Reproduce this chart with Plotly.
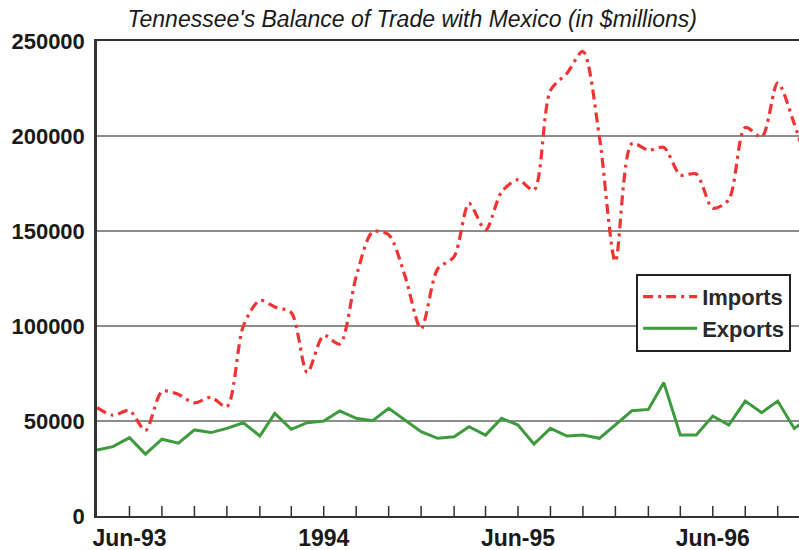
import pandas as pd
import plotly.graph_objects as go

# Monthly trade values, April 1993 onward (in $millions)
months = pd.date_range("1993-04-01", periods=45, freq="MS")

imports = [
    57000, 53000, 55500, 45000, 65500, 64000, 59500, 62500, 57500, 100000,
    113500, 110000, 107000, 75500, 95000, 90500, 126000, 149500, 148000, 126000,
    98500, 130000, 136500, 164500, 150500, 170500, 177000, 171500, 224000, 233000,
    244500, 199500, 134000, 196000, 192500, 194000, 179500, 180000, 162000, 166500,
    204500, 199500, 228000, 206500, 180000,
]

exports = [
    34700, 36500, 41200, 32600, 40400, 38300, 45300, 43900, 46100, 49100,
    42100, 54000, 45600, 49100, 50000, 55300, 51400, 50200, 56700, 50500,
    44400, 40900, 41700, 47000, 42600, 51400, 47900, 37900, 46100, 42100,
    42600, 40900, 47900, 55400, 56100, 70200, 42600, 42600, 52600, 47900,
    60500, 54400, 60500, 46100, 52000,
]

# Year labels shown under the axis; tick marks fall every other month
year_labels = {"1993-06": "Jun-93", "1994-06": "1994", "1995-06": "Jun-95", "1996-06": "Jun-96"}
tick_months = [m.strftime("%Y-%m-%d") for m in months[::2]]
tick_text = [year_labels.get(m[:7], "") for m in tick_months]

font_family = "Liberation Sans, Arial, sans-serif"
plot_height = 550 - 41 - 34
tick_len = 10

fig = go.Figure()

fig.add_trace(go.Scatter(
    x=months, y=imports, name="Imports", mode="lines",
    line=dict(color="#f03434", width=3.2, dash="10px,5px,3px,5px",
              shape="spline", smoothing=0.8),
))
fig.add_trace(go.Scatter(
    x=months, y=exports, name="Exports", mode="lines",
    line=dict(color="#3d9a3d", width=3),
))

# Short tick marks rising from the baseline at every other month
for m in tick_months[1:]:
    fig.add_shape(
        type="line", xref="x", yref="y domain",
        x0=m, x1=m, y0=0, y1=tick_len / plot_height,
        line=dict(color="#333333", width=1.5), layer="above",
    )

fig.update_layout(
    width=799, height=550,
    margin=dict(l=97, r=0, t=41, b=34),
    paper_bgcolor="white", plot_bgcolor="white",
    title=dict(
        text="Tennessee's Balance of Trade with Mexico (in $millions)",
        x=0.516, xanchor="center", y=0.965, yanchor="middle",
        font=dict(family=font_family, size=23, color="#1a1a1a", style="italic"),
    ),
    legend=dict(
        x=0.768, y=0.51, xanchor="left", yanchor="top",
        bgcolor="white", bordercolor="#222", borderwidth=2,
        font=dict(family=font_family, size=22, color="#2a2a2a", weight="bold"),
        tracegroupgap=0, itemwidth=54,
    ),
    showlegend=True,
)

fig.update_xaxes(
    type="date",
    range=[months[0], "1996-11-10"],
    tickmode="array", tickvals=tick_months, ticktext=tick_text,
    ticks="",
    showgrid=False, zeroline=False,
    showline=True, linecolor="#333", linewidth=2, mirror=True,
    tickfont=dict(family=font_family, size=23, color="#1a1a1a", weight="bold"),
)

fig.update_yaxes(
    range=[0, 250000], dtick=50000, tickformat="d",
    showgrid=True, gridcolor="#8c8c8c", gridwidth=1.5,
    zeroline=False, showline=True, linecolor="#333", linewidth=2.5,
    ticks="", ticklabelstandoff=5,
    tickfont=dict(family=font_family, size=22, color="#1a1a1a", weight="bold"),
)

fig.write_html("out.html")
